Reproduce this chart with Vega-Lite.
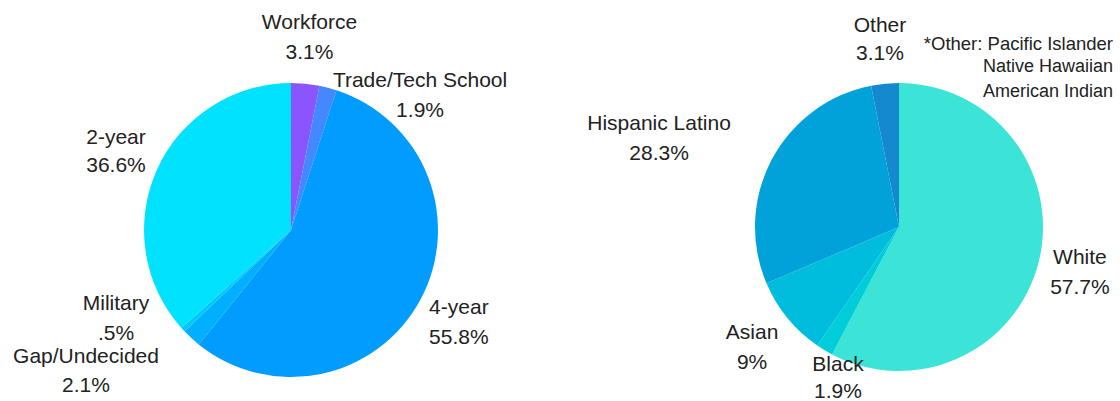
{
  "$schema": "https://vega.github.io/schema/vega-lite/v6.json",
  "autosize": {"type": "pad"},
  "padding": {"left": 0, "top": 0, "right": 0, "bottom": 0},
  "background": "white",
  "spacing": 96,
  "bounds": "flush",
  "resolve": {"scale": {"color": "independent", "theta": "independent"}},
  "config": {"view": {"stroke": null}, "text": {"font": "Liberation Sans"}},
  "hconcat": [
    {
      "width": 582,
      "height": 344,
      "data": {"values": [
        {"i": 1, "cat": "Workforce", "pct": 3.1, "label": "Workforce\n3.1%"},
        {"i": 2, "cat": "Trade/Tech School", "pct": 1.9, "label": "Trade/Tech School\n1.9%"},
        {"i": 3, "cat": "4-year", "pct": 55.8, "label": "4-year\n55.8%"},
        {"i": 4, "cat": "Gap/Undecided", "pct": 2.1, "label": "Gap/Undecided\n2.1%"},
        {"i": 5, "cat": "Military", "pct": 0.5, "label": "Military\n.5%"},
        {"i": 6, "cat": "2-year", "pct": 36.6, "label": "2-year\n36.6%"}
      ]},
      "layer": [
        {
          "mark": {"type": "arc", "outerRadius": 147},
          "encoding": {
            "theta": {"field": "pct", "type": "quantitative", "stack": true},
            "order": {"field": "i", "type": "quantitative"},
            "color": {"field": "cat", "type": "nominal", "legend": null,
              "scale": {"domain": ["Workforce", "Trade/Tech School", "4-year", "Gap/Undecided", "Military", "2-year"],
                        "range": ["#8A55FF", "#4488FF", "#009CFF", "#00B0FF", "#00C8FF", "#00E2FF"]}}
          }
        },
        {
          "mark": {"type": "text", "radius": 175, "dx": 1.5, "dy": -33, "fontSize": 21, "lineBreak": "\n", "lineHeight": 30, "fill": "#222222"},
          "encoding": {
            "theta": {"field": "pct", "type": "quantitative", "stack": true},
            "order": {"field": "i", "type": "quantitative"},
            "detail": {"field": "cat", "type": "nominal"},
            "text": {"condition": {"test": "datum.cat === 'Workforce'", "field": "label", "type": "nominal"}, "value": ""}
          }
        },
        {
          "mark": {"type": "text", "radius": 175, "dx": 85, "dy": 20, "fontSize": 21, "lineBreak": "\n", "lineHeight": 30, "fill": "#222222"},
          "encoding": {
            "theta": {"field": "pct", "type": "quantitative", "stack": true},
            "order": {"field": "i", "type": "quantitative"},
            "detail": {"field": "cat", "type": "nominal"},
            "text": {"condition": {"test": "datum.cat === 'Trade/Tech School'", "field": "label", "type": "nominal"}, "value": ""}
          }
        },
        {
          "mark": {"type": "text", "radius": 175, "dx": 14, "dy": -5.4, "fontSize": 21, "lineBreak": "\n", "lineHeight": 30, "fill": "#222222"},
          "encoding": {
            "theta": {"field": "pct", "type": "quantitative", "stack": true},
            "order": {"field": "i", "type": "quantitative"},
            "detail": {"field": "cat", "type": "nominal"},
            "text": {"condition": {"test": "datum.cat === '4-year'", "field": "label", "type": "nominal"}, "value": ""}
          }
        },
        {
          "mark": {"type": "text", "radius": 175, "dx": -86.4, "dy": -1.2, "fontSize": 21, "lineBreak": "\n", "lineHeight": 29, "fill": "#222222"},
          "encoding": {
            "theta": {"field": "pct", "type": "quantitative", "stack": true},
            "order": {"field": "i", "type": "quantitative"},
            "detail": {"field": "cat", "type": "nominal"},
            "text": {"condition": {"test": "datum.cat === 'Gap/Undecided'", "field": "label", "type": "nominal"}, "value": ""}
          }
        },
        {
          "mark": {"type": "text", "radius": 175, "dx": -46.3, "dy": -44.6, "fontSize": 21, "lineBreak": "\n", "lineHeight": 30, "fill": "#222222"},
          "encoding": {
            "theta": {"field": "pct", "type": "quantitative", "stack": true},
            "order": {"field": "i", "type": "quantitative"},
            "detail": {"field": "cat", "type": "nominal"},
            "text": {"condition": {"test": "datum.cat === 'Military'", "field": "label", "type": "nominal"}, "value": ""}
          }
        },
        {
          "mark": {"type": "text", "radius": 175, "dx": -15.3, "dy": -20.5, "fontSize": 21, "lineBreak": "\n", "lineHeight": 28, "fill": "#222222"},
          "encoding": {
            "theta": {"field": "pct", "type": "quantitative", "stack": true},
            "order": {"field": "i", "type": "quantitative"},
            "detail": {"field": "cat", "type": "nominal"},
            "text": {"condition": {"test": "datum.cat === '2-year'", "field": "label", "type": "nominal"}, "value": ""}
          }
        }
      ]
    },
    {
      "width": 442,
      "height": 338,
      "title": {
        "text": "*Other: Pacific Islander",
        "subtitle": ["Native Hawaiian", "American Indian"],
        "orient": "top",
        "anchor": "end",
        "frame": "group",
        "align": "right",
        "offset": -86,
        "dx": -7,
        "font": "Liberation Sans",
        "fontSize": 18.5,
        "fontWeight": "normal",
        "color": "#222222",
        "subtitleFont": "Liberation Sans",
        "subtitleFontSize": 18,
        "subtitleColor": "#222222",
        "subtitleLineHeight": 25,
        "subtitlePadding": 5
      },
      "data": {"values": [
        {"i": 1, "cat": "White", "pct": 57.7, "label": "White\n57.7%"},
        {"i": 2, "cat": "Black", "pct": 1.9, "label": "Black\n1.9%"},
        {"i": 3, "cat": "Asian", "pct": 9, "label": "Asian\n9%"},
        {"i": 4, "cat": "Hispanic Latino", "pct": 28.3, "label": "Hispanic Latino\n28.3%"},
        {"i": 5, "cat": "Other", "pct": 3.1, "label": "Other\n3.1%"}
      ]},
      "layer": [
        {
          "mark": {"type": "arc", "outerRadius": 144},
          "encoding": {
            "theta": {"field": "pct", "type": "quantitative", "stack": true},
            "order": {"field": "i", "type": "quantitative"},
            "color": {"field": "cat", "type": "nominal", "legend": null,
              "scale": {"domain": ["White", "Black", "Asian", "Hispanic Latino", "Other"],
                        "range": ["#3BE4D6", "#00CDD9", "#00BCDD", "#01A2D9", "#1589D0"]}}
          }
        },
        {
          "mark": {"type": "text", "radius": 175, "dx": 11, "dy": -11, "fontSize": 21, "lineBreak": "\n", "lineHeight": 30, "fill": "#222222"},
          "encoding": {
            "theta": {"field": "pct", "type": "quantitative", "stack": true},
            "order": {"field": "i", "type": "quantitative"},
            "detail": {"field": "cat", "type": "nominal"},
            "text": {"condition": {"test": "datum.cat === 'White'", "field": "label", "type": "nominal"}, "value": ""}
          }
        },
        {
          "mark": {"type": "text", "radius": 175, "dx": 29.5, "dy": -11.5, "fontSize": 21, "lineBreak": "\n", "lineHeight": 27, "fill": "#222222"},
          "encoding": {
            "theta": {"field": "pct", "type": "quantitative", "stack": true},
            "order": {"field": "i", "type": "quantitative"},
            "detail": {"field": "cat", "type": "nominal"},
            "text": {"condition": {"test": "datum.cat === 'Black'", "field": "label", "type": "nominal"}, "value": ""}
          }
        },
        {
          "mark": {"type": "text", "radius": 175, "dx": -11.4, "dy": -4.7, "fontSize": 21, "lineBreak": "\n", "lineHeight": 30, "fill": "#222222"},
          "encoding": {
            "theta": {"field": "pct", "type": "quantitative", "stack": true},
            "order": {"field": "i", "type": "quantitative"},
            "detail": {"field": "cat", "type": "nominal"},
            "text": {"condition": {"test": "datum.cat === 'Asian'", "field": "label", "type": "nominal"}, "value": ""}
          }
        },
        {
          "mark": {"type": "text", "radius": 175, "dx": -85.3, "dy": -21, "fontSize": 21, "lineBreak": "\n", "lineHeight": 30, "fill": "#222222"},
          "encoding": {
            "theta": {"field": "pct", "type": "quantitative", "stack": true},
            "order": {"field": "i", "type": "quantitative"},
            "detail": {"field": "cat", "type": "nominal"},
            "text": {"condition": {"test": "datum.cat === 'Hispanic Latino'", "field": "label", "type": "nominal"}, "value": ""}
          }
        },
        {
          "mark": {"type": "text", "radius": 175, "dx": -2, "dy": -26.8, "fontSize": 21, "lineBreak": "\n", "lineHeight": 28, "fill": "#222222"},
          "encoding": {
            "theta": {"field": "pct", "type": "quantitative", "stack": true},
            "order": {"field": "i", "type": "quantitative"},
            "detail": {"field": "cat", "type": "nominal"},
            "text": {"condition": {"test": "datum.cat === 'Other'", "field": "label", "type": "nominal"}, "value": ""}
          }
        }
      ]
    }
  ]
}
